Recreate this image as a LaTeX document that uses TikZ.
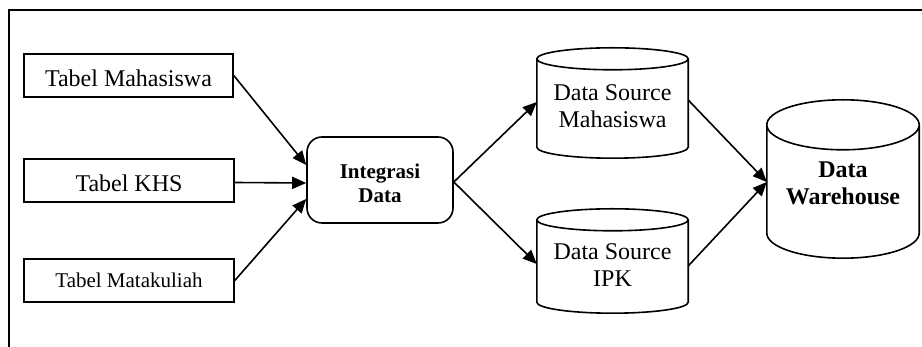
\documentclass[tikz,border=0pt]{standalone}
\usepackage{fontspec}
\setmainfont{Liberation Serif}
\usetikzlibrary{calc,arrows.meta}
\tikzset{
  ln/.style={line width=1.6pt},
  tabbox/.style={ln, draw, rectangle, minimum height=43pt, inner sep=0pt,
    font=\fontsize{24}{27}\selectfont, text height=23pt, text depth=0pt},
  procbox/.style={ln, draw, rectangle, rounded corners=15pt, minimum width=146pt,
    minimum height=86pt, align=center, font=\fontsize{21}{24}\selectfont\bfseries},
  cylbox/.style={rectangle, inner sep=0pt, align=center, font=\fontsize{24}{27}\selectfont},
  arr/.style={ln, -{Triangle[length=14pt,width=12pt]}}
}
\newcommand\drawcyl[2]{%
  \draw[ln] let \p1=(#1.north west), \p2=(#1.south east) in
    ({(\x1+\x2)/2},{\y1-#2pt}) ellipse [x radius={(\x2-\x1)/2}, y radius=#2pt]
    (\x1,{\y1-#2pt}) -- (\x1,{\y2+#2pt})
    arc [start angle=180, end angle=360, x radius={(\x2-\x1)/2}, y radius=#2pt]
    -- (\x2,{\y1-#2pt});
}
\begin{document}
\begin{tikzpicture}[x=1pt,y=1pt]
\useasboundingbox (0,0) rectangle (922,347);
\draw[ln] (9,0) -- (9,337) -- (922,337);

\node[tabbox, minimum width=209pt] (tm) at (128.5,271.5) {Tabel Mahasiswa};
\node[tabbox, minimum width=210pt] (khs) at (129,166.5) {Tabel KHS};
\node[tabbox, minimum width=210pt, font=\fontsize{21}{24}\selectfont, text height=15pt] (tmk) at (129,66.5) {Tabel Matakuliah};

\node[procbox] (int) at (380,167) {};
\node[font=\fontsize{21}{24}\selectfont\bfseries, align=center] (intt) at ($(int.center)+(0,-3)$) {Integrasi\\Data};

\node[cylbox, minimum width=151pt, minimum height=110pt] (dsm) at (612.5,244) {};
\node[cylbox] (dsmt) at ($(dsm.center)+(0,-3)$) {Data Source\\Mahasiswa};
\node[cylbox, minimum width=151pt, minimum height=104pt] (dsi) at (612.5,86) {};
\node[cylbox] (dsit) at ($(dsi.center)+(0,-4)$) {Data Source\\IPK};
\node[cylbox, minimum width=152pt, minimum height=158pt] (dw) at (843,168) {};
\node[cylbox, font=\fontsize{24}{27}\selectfont\bfseries] (dwt) at ($(dw.center)+(0,-4)$) {Data\\Warehouse};
\drawcyl{dsm}{11}
\drawcyl{dsi}{11}
\drawcyl{dw}{25}

\draw[arr] (tm.east) -- ($(int.west)+(0,15)$);
\draw[arr] ($(khs.east)+(0,-2)$) -- ($(int.west)+(0,-3)$);
\draw[arr] (tmk.east) -- ($(int.west)+(0,-19)$);

\draw[arr] ($(int.east)+(0,-2)$) -- ($(dsm.west)+(0,1)$);
\draw[arr] ($(int.east)+(0,-2)$) -- ($(dsi.west)+(0,-3)$);

\draw[arr] ($(dsm.east)+(0,3)$) -- ($(dw.west)+(0,-3)$);
\draw[arr] ($(dsi.east)+(0,-5)$) -- ($(dw.west)+(0,-3)$);
\end{tikzpicture}
\end{document}
